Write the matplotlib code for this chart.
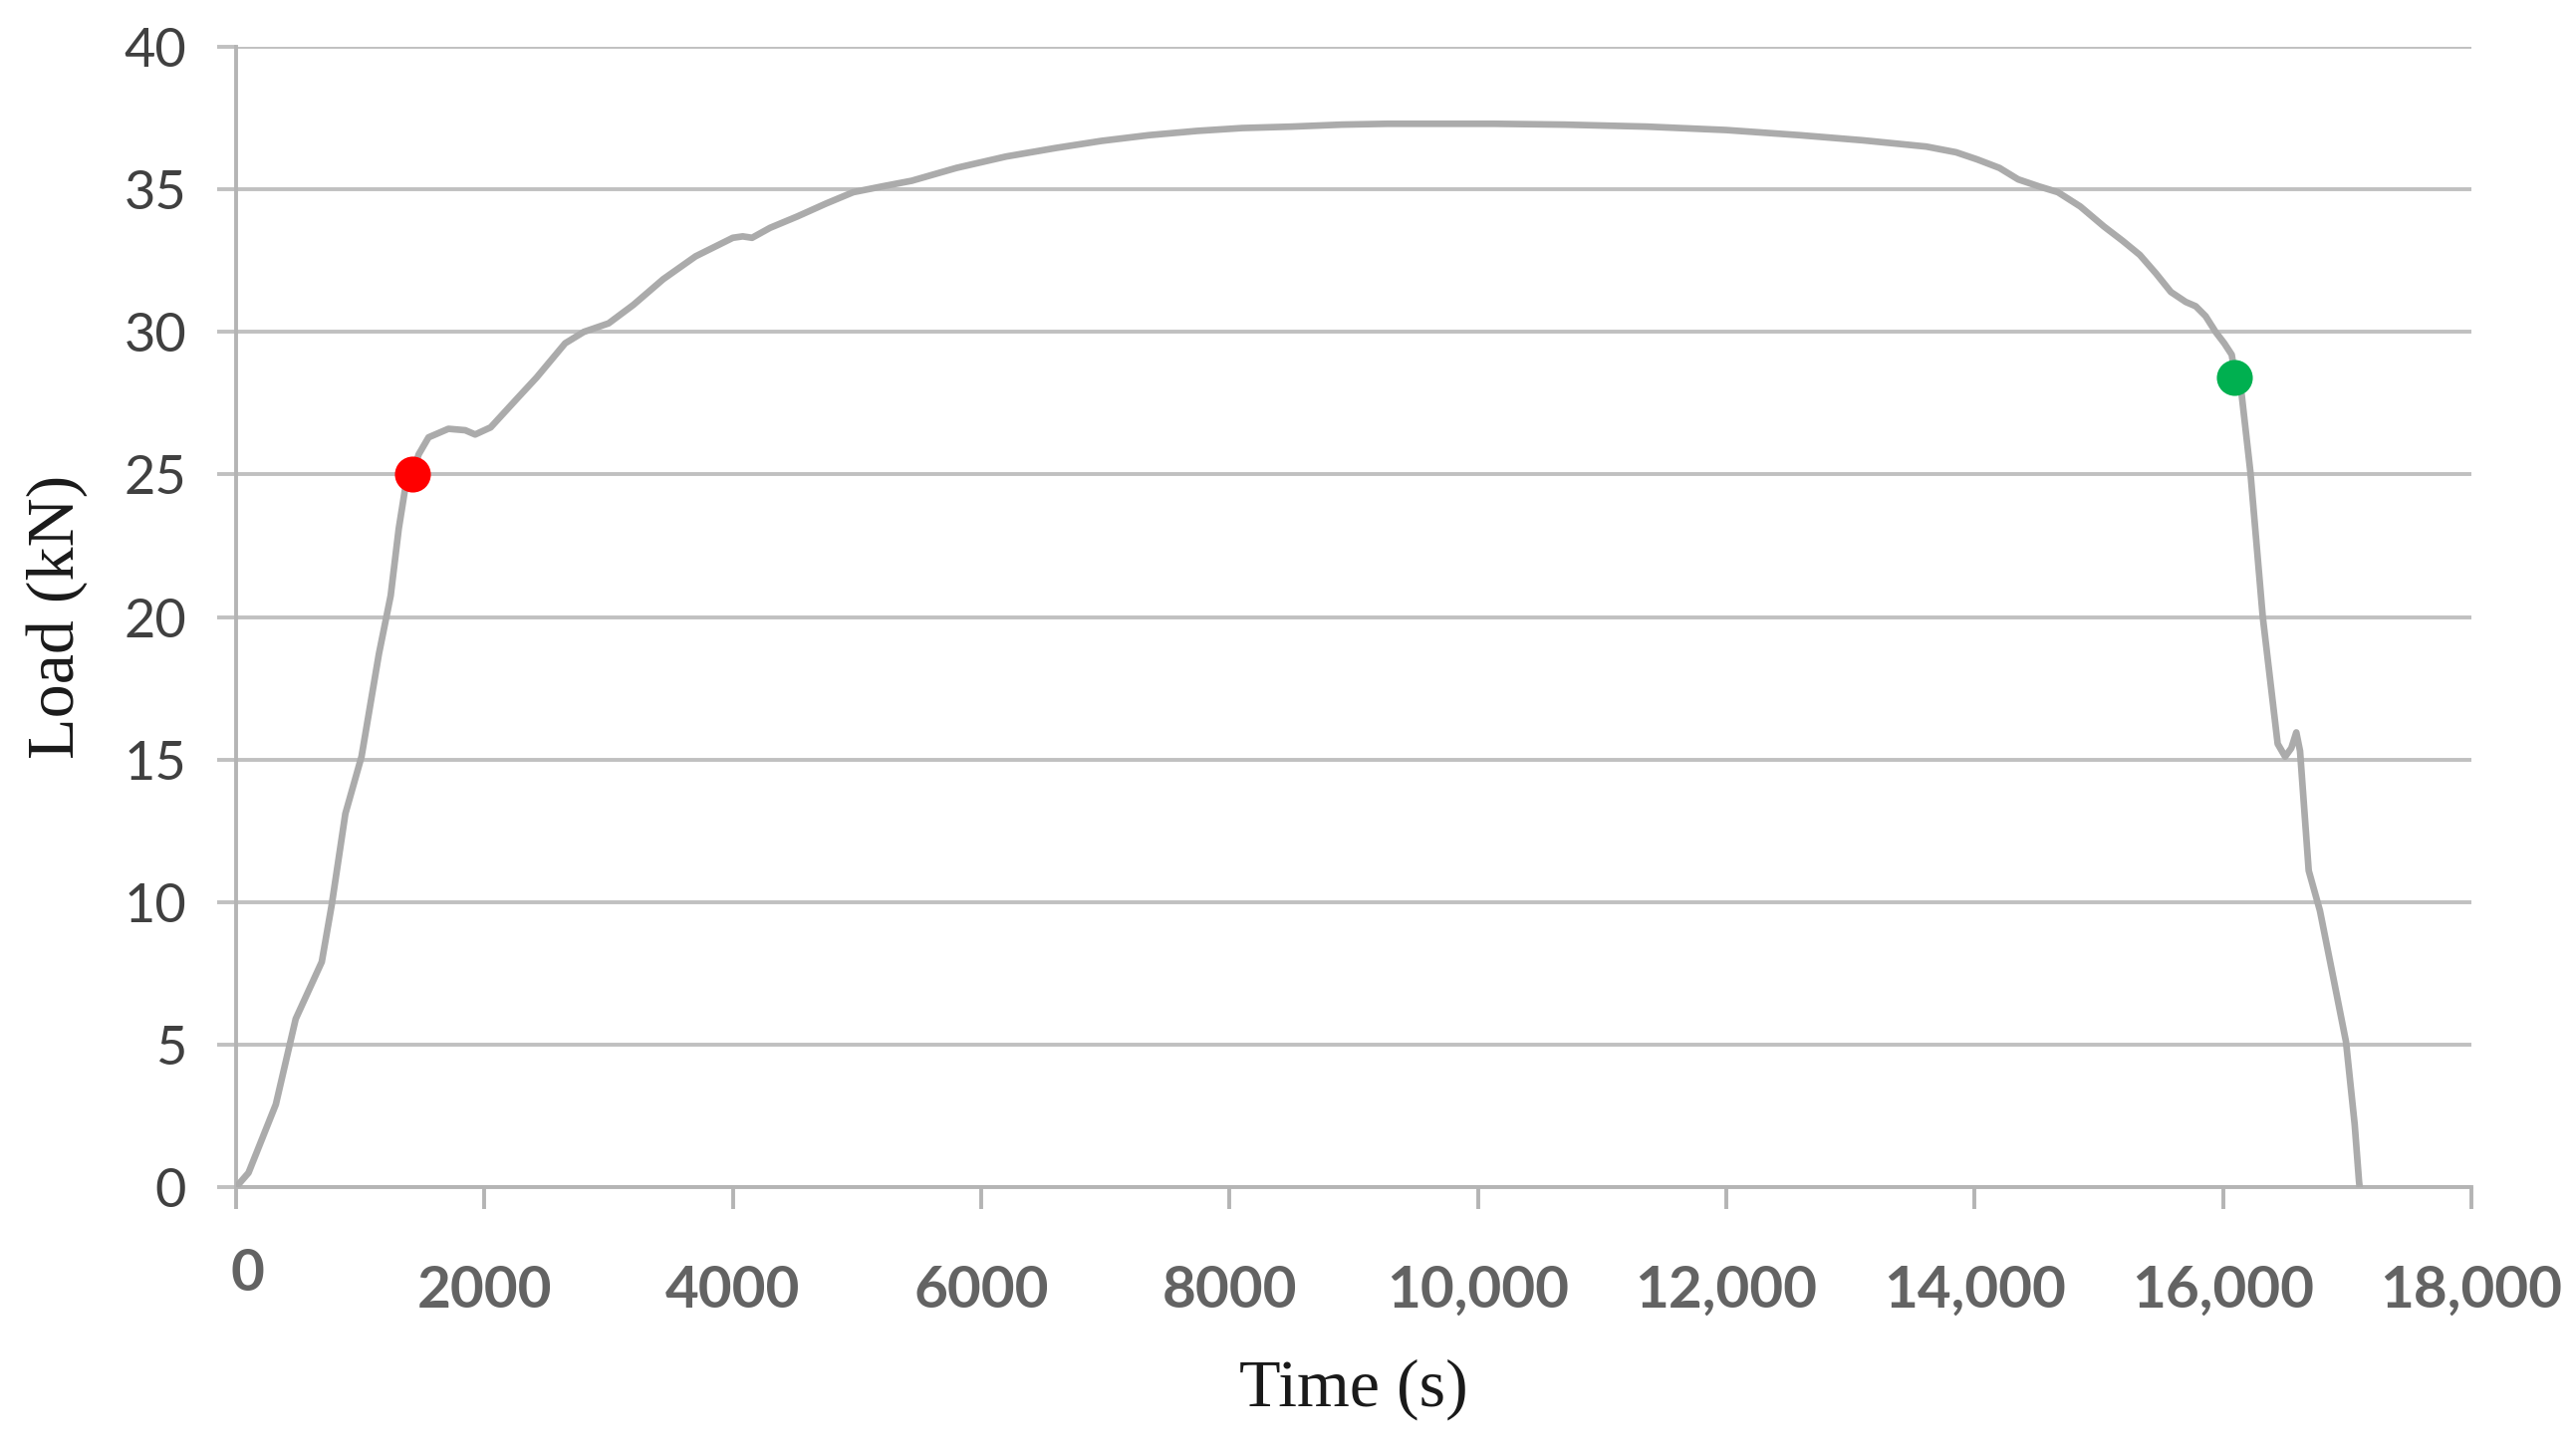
import matplotlib
matplotlib.use("Agg")
import matplotlib.pyplot as plt
from matplotlib.transforms import ScaledTranslation

# ---- data ----
time_s = [0, 100, 320, 480, 690, 770, 880, 1010, 1150, 1245, 1310, 1365, 1420, 1470,
          1550, 1710, 1845, 1925, 2050, 2250, 2420, 2650, 2800, 2900, 3000, 3200, 3440,
          3700, 4000, 4080, 4155, 4300, 4520, 4750, 4970, 5200, 5440, 5800, 6200,
          6600, 6970, 7350, 7740, 8100, 8500, 8900, 9270, 9700, 10130, 10700, 11360,
          12000, 12590, 13100, 13610, 13850, 14020, 14200, 14350, 14520, 14670, 14850,
          15040, 15190, 15330, 15460, 15580, 15700, 15780, 15860, 15940, 16010, 16070,
          16100, 16150, 16220, 16320, 16440, 16500, 16550, 16590, 16620, 16690, 16780,
          16890, 16990, 17060, 17095, 17100]
load_kn = [0, 0.5, 2.9, 5.9, 7.9, 9.9, 13.1, 15.1, 18.7, 20.75, 23.1, 24.6, 25.0, 25.7,
           26.3, 26.6, 26.55, 26.4, 26.65, 27.6, 28.4, 29.6, 30.0, 30.15, 30.3, 30.95, 31.85,
           32.65, 33.3, 33.35, 33.3, 33.65, 34.05, 34.5, 34.9, 35.1, 35.3, 35.75, 36.15,
           36.45, 36.7, 36.9, 37.05, 37.15, 37.2, 37.27, 37.3, 37.3, 37.3, 37.27, 37.2,
           37.08, 36.9, 36.72, 36.5, 36.3, 36.05, 35.75, 35.35, 35.1, 34.9, 34.4,
           33.7, 33.2, 32.7, 32.05, 31.4, 31.05, 30.9, 30.55, 30.0, 29.6, 29.2,
           28.4, 27.8, 25.1, 20.0, 15.55, 15.1, 15.4, 15.95, 15.3, 11.1, 9.7,
           7.3, 5.1, 2.2, 0.2, 0]
red_point = (1420, 25.0)
green_point = (16090, 28.4)

x_ticks = [0, 2000, 4000, 6000, 8000, 10000, 12000, 14000, 16000, 18000]
x_tick_labels = ["0", "2000", "4000", "6000", "8000", "10,000", "12,000", "14,000",
                 "16,000", "18,000"]
y_ticks = [0, 5, 10, 15, 20, 25, 30, 35, 40]

# ---- figure ----
W, H, DPI = 2586, 1459, 200
fig = plt.figure(figsize=(W / DPI, H / DPI), dpi=DPI)
fig.patch.set_facecolor("white")
left, right = 237 / W, 2481 / W
bottom, top = 1 - 1192 / H, 1 - 47 / H
ax = fig.add_axes([left, bottom, right - left, top - bottom])

grid_c = "#c0c0c0"
axis_c = "#b4b4b4"
line_c = "#ababab"

ax.plot(time_s, load_kn, color=line_c, lw=2.4, solid_joinstyle="round",
        solid_capstyle="round", zorder=3)
ax.plot([red_point[0]], [red_point[1]], "o", color="#ff0000", ms=13, mec="none", zorder=4)
ax.plot([green_point[0]], [green_point[1]], "o", color="#00b050", ms=13, mec="none", zorder=4)

ax.set_xlim(0, 18000)
ax.set_ylim(0, 40)
ax.set_xticks(x_ticks)
ax.set_xticklabels(x_tick_labels)
ax.set_yticks(y_ticks)

ax.yaxis.grid(True, color=grid_c, lw=1.4)
ax.set_axisbelow(True)
for s in ["top", "right"]:
    ax.spines[s].set_visible(False)
for s in ["left", "bottom"]:
    ax.spines[s].set_color(axis_c)
    ax.spines[s].set_linewidth(1.4)

ax.tick_params(axis="y", length=7, width=1.4, color=grid_c, pad=11,
               labelsize=19.5, labelcolor="#404040")
ax.tick_params(axis="x", length=8, width=1.4, color=axis_c, pad=20,
               labelsize=21, labelcolor="#636363")
for lab in ax.get_yticklabels():
    lab.set_fontfamily("Lato")
for lab in ax.get_xticklabels():
    lab.set_fontfamily("Lato")
    lab.set_fontweight("bold")
# the "0" label sits a bit higher and to the right in the reference
xl = ax.get_xticklabels()
xl[0].set_transform(xl[0].get_transform() + ScaledTranslation(4 / 72, 6 / 72, fig.dpi_scale_trans))

ax.set_xlabel("Time (s)", fontfamily="Liberation Serif", fontsize=24.5, color="#1a1a1a",
              labelpad=15)
ax.set_ylabel("Load (kN)", fontfamily="Liberation Serif", fontsize=24.5, color="#1a1a1a",
              labelpad=13)

fig.savefig("out.png", dpi=DPI, facecolor="white")
